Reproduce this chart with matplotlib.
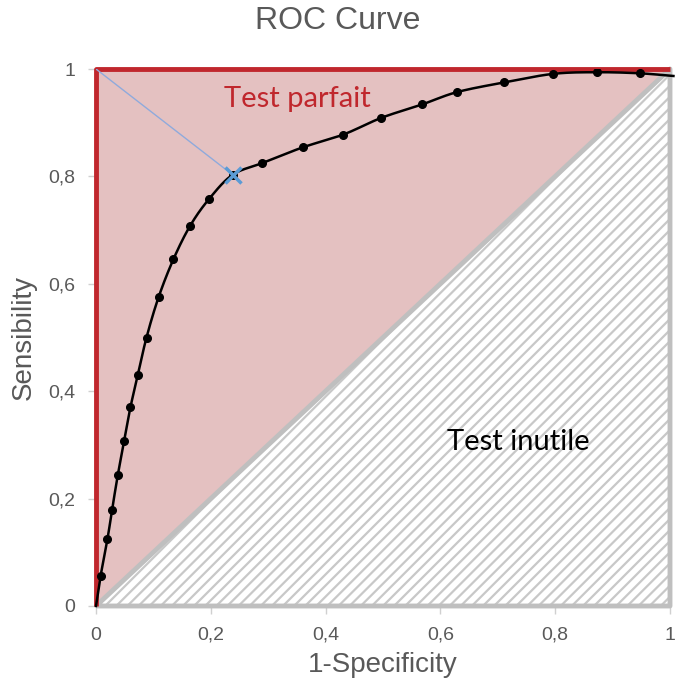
import numpy as np
import matplotlib
matplotlib.use("Agg")
import matplotlib.pyplot as plt
from matplotlib.patches import Polygon

# ---- data ----
roc_fpr = [0.0, 0.008, 0.020, 0.028, 0.038, 0.049, 0.060, 0.073, 0.088, 0.109, 0.135,
           0.164, 0.197, 0.238, 0.290, 0.360, 0.431, 0.497, 0.568, 0.629, 0.711,
           0.797, 0.873, 0.947, 1.006]
roc_tpr = [0.0, 0.056, 0.125, 0.179, 0.244, 0.307, 0.370, 0.431, 0.500, 0.575, 0.646,
           0.708, 0.758, 0.803, 0.825, 0.854, 0.878, 0.909, 0.934, 0.957, 0.975,
           0.991, 0.994, 0.992, 0.987]
best_point = (0.238, 0.803)
perfect_corner = (0.0, 1.0)
tick_values = [0, 0.2, 0.4, 0.6, 0.8, 1]
tick_labels = ["0", "0,2", "0,4", "0,6", "0,8", "1"]
title = "ROC Curve"
xlabel = "1-Specificity"
ylabel = "Sensibility"
label_good = "Test parfait"
label_bad = "Test inutile"

plt.rcParams['font.family'] = ['Liberation Sans', 'DejaVu Sans']
plt.rcParams['hatch.linewidth'] = 1.6

def catmull_rom(x, y, n=20):
    x = np.asarray(x, float); y = np.asarray(y, float)
    px = np.concatenate([[2*x[0]-x[1]], x, [2*x[-1]-x[-2]]])
    py = np.concatenate([[2*y[0]-y[1]], y, [2*y[-1]-y[-2]]])
    xs, ys = [], []
    t = np.linspace(0, 1, n, endpoint=False)
    for i in range(1, len(px)-2):
        for arr, out in ((px, xs), (py, ys)):
            p0, p1, p2, p3 = arr[i-1], arr[i], arr[i+1], arr[i+2]
            out.extend(0.5*((2*p1) + (-p0+p2)*t + (2*p0-5*p1+4*p2-p3)*t**2
                            + (-p0+3*p1-3*p2+p3)*t**3))
    xs.append(x[-1]); ys.append(y[-1])
    return np.array(xs), np.array(ys)

fig = plt.figure(figsize=(6.76, 6.84), dpi=100)
ax = fig.add_axes([96/676, 78/684, 574/676, 537/684])
ax.set_xlim(0, 1)
ax.set_ylim(0, 1)
for s in ax.spines.values():
    s.set_visible(False)

pink = '#E4C1C1'
red = '#C0272D'
gray = '#BFBFBF'

ax.add_patch(Polygon([(0, 0), (0, 1), (1, 1)], closed=True, facecolor=pink,
                     edgecolor='none', zorder=1))
ax.add_patch(Polygon([(0, 0), (1, 1), (1, 0)], closed=True, facecolor='white',
                     edgecolor='#C8C8C8', linewidth=0, hatch='///', zorder=1))
ax.plot([0, 1, 1, 0], [0, 1, 0, 0], color=gray, lw=3.5, solid_capstyle='butt',
        zorder=2, clip_on=False)
ax.plot([0, 0, 1], [0, 1, 1], color=red, lw=3.5, zorder=3, clip_on=False,
        solid_capstyle='butt')

sx, sy = catmull_rom(roc_fpr, roc_tpr)
ax.plot(sx, sy, color='black', lw=1.8, zorder=5, clip_on=False)
ax.plot(roc_fpr[1:-1], roc_tpr[1:-1], 'o', color='black', ms=5.5, zorder=6)

ax.plot([perfect_corner[0], best_point[0]], [perfect_corner[1], best_point[1]],
        color='#8FAADC', lw=1.0, zorder=4)
ax.plot([best_point[0]], [best_point[1]], marker='x', color='#5B9BD5', ms=11,
        mew=2.5, zorder=7)

ax.text(0.35, 0.945, label_good, color=red, fontsize=21, family=['Lato', 'DejaVu Sans'],
        ha='center', va='center', zorder=8)
ax.text(0.735, 0.305, label_bad, color='black', fontsize=21, family=['Lato', 'DejaVu Sans'],
        ha='center', va='center', zorder=8)

ax.set_xticks(tick_values)
ax.set_xticklabels(tick_labels)
ax.set_yticks(tick_values)
ax.set_yticklabels(tick_labels)
ax.tick_params(colors='#D0D0D0', labelcolor='#595959', labelsize=14, length=6, width=1,
               pad=9)
ax.set_xlabel(xlabel, fontsize=20, color='#595959', labelpad=6)
ax.set_ylabel(ylabel, fontsize=20, color='#595959', labelpad=8)
fig.text(0.5, 1 - 21/684, title, fontsize=23, color='#595959', ha='center', va='center')

fig.savefig('out.png', dpi=100)
